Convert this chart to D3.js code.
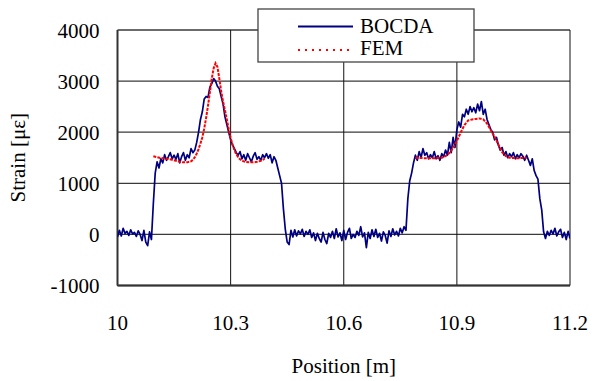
<!DOCTYPE html>
<html>
<head>
<meta charset="utf-8">
<script src="https://d3js.org/d3.v7.min.js"></script>
<style>
  body { margin: 0; background: #fff; }
</style>
</head>
<body>
<div id="graph"></div>
<script>
// BOCDA measurement, every 5 mm from 10.000 m to 11.200 m
var bocdaStart = 10.0;
var bocdaStep = 0.005;
var bocdaStrain = [
  -50, 80, -30, 120, 20, 60, -20, 90, 10, 40,
  -40, 70, 0, -120, 80, -150, -220, 50, -100, 600,
  1200, 1420, 1300, 1480, 1400, 1560, 1450, 1520, 1600, 1480,
  1550, 1470, 1580, 1400, 1520, 1600, 1450, 1560, 1500, 1680,
  1600, 1650, 1800, 2000, 2250, 2400, 2650, 2700, 2680, 2880,
  2950, 3050, 3000, 2900, 2850, 2700, 2550, 2300, 2150, 2000,
  1850, 1750, 1680, 1600, 1550, 1620, 1480, 1560, 1450, 1580,
  1500, 1420, 1530, 1600, 1470, 1520, 1450, 1560, 1500, 1580,
  1490, 1560, 1400, 1520, 1450, 1300, 1150, 1000, 500, 100,
  -150, -200, 80, -50, 90, -30, 70, 10, 100, -40,
  60, 0, 90, -60, 30, -120, 20, -80, -150, 40,
  -100, -180, 20, -60, 60, -80, 110, -50, 30, -120,
  80, -100, 40, 120, -80, 0, -60, 60, -20, 150,
  -50, 30, -260, 40, -80, 90, -40, 100, -60, 20,
  -130, 50, -20, -170, 70, -40, 110, -10, 60, -30,
  120, 30, 150, 80, 700, 1050, 1200, 1400, 1550, 1450,
  1620, 1500, 1680, 1550, 1600, 1480, 1560, 1500, 1620, 1480,
  1540, 1450, 1580, 1520, 1650, 1550, 1800, 1600, 1900, 1700,
  2050, 2200, 2100, 2350, 2300, 2450, 2350, 2500, 2400, 2480,
  2380, 2550, 2420, 2600, 2350, 2450, 2250, 2150, 2050, 2000,
  1850, 1900, 1750, 1650, 1700, 1550, 1620, 1500, 1580, 1520,
  1600, 1480, 1560, 1500, 1580, 1530, 1450, 1550, 1450, 1350,
  1480, 1250, 1150, 1080, 700, 480, 50, -80, 60, -20,
  80, 10, 120, -30, 50, 100, -60, 40, -100, 60,
  -80
];

// FEM result, two loaded sections (null = gap)
var femPos = [
  10.095, 10.105, 10.115, 10.125, 10.135, 10.145, 10.155, 10.165, 10.175, 10.185,
  10.195, 10.200, 10.205, 10.210, 10.215, 10.220, 10.225, 10.230, 10.235, 10.240,
  10.245, 10.250, 10.255, 10.260, 10.265, 10.270, 10.275, 10.280, 10.285, 10.290,
  10.295, 10.300, 10.305, 10.310, 10.315, 10.320, 10.325, 10.330, 10.340, 10.350,
  10.360, 10.370, 10.380, 10.390,
  10.600,
  10.790, 10.800, 10.820, 10.840, 10.860, 10.870, 10.880, 10.890, 10.900, 10.910,
  10.920, 10.930, 10.940, 10.950, 10.960, 10.970, 10.980, 10.990, 11.000, 11.010,
  11.020, 11.030, 11.040, 11.060, 11.085
];
var femStrain = [
  1530, 1510, 1495, 1485, 1475, 1460, 1440, 1420, 1410, 1410,
  1430, 1460, 1510, 1580, 1670, 1780, 1900, 2070, 2280, 2520,
  2780, 3050, 3250, 3350, 3280, 3050, 2800, 2600, 2430, 2250,
  2060, 1890, 1760, 1650, 1570, 1510, 1470, 1440, 1420, 1410,
  1410, 1420, 1440, 1480,
  null,
  1500, 1495, 1490, 1490, 1500, 1530, 1590, 1690, 1830, 1990,
  2140, 2230, 2250, 2260, 2270, 2250, 2170, 2040, 1910, 1760,
  1610, 1530, 1500, 1490, 1500
];

var xTicks = [10, 10.3, 10.6, 10.9, 11.2];
var yTicks = [-1000, 0, 1000, 2000, 3000, 4000];
var seriesNames = ["BOCDA", "FEM"];

var serif = "'Liberation Serif', 'DejaVu Serif', serif";

var width = 592, height = 381;
var margin = {top: 30, right: 22, bottom: 95.5, left: 117.5};
var plotW = width - margin.left - margin.right;
var plotH = height - margin.top - margin.bottom;

var svg = d3.select("#graph")
    .append("svg")
    .attr("width", width)
    .attr("height", height)
    .style("font-family", serif);

var g = svg.append("g")
    .attr("transform", `translate(${margin.left},${margin.top})`);

var x = d3.scaleLinear().domain([10, 11.2]).range([0, plotW]);
var y = d3.scaleLinear().domain([-1000, 4000]).range([plotH, 0]);

// grid
g.selectAll(".hgrid")
  .data(yTicks)
  .enter()
  .append("line")
    .attr("x1", 0)
    .attr("x2", plotW)
    .attr("y1", d => y(d))
    .attr("y2", d => y(d))
    .attr("stroke", "#3a3a3a")
    .attr("stroke-width", 1.3);

g.selectAll(".vgrid")
  .data(xTicks)
  .enter()
  .append("line")
    .attr("x1", d => x(d))
    .attr("x2", d => x(d))
    .attr("y1", 0)
    .attr("y2", plotH)
    .attr("stroke", "#111")
    .attr("stroke-width", 1);

// frame, left and bottom a bit heavier
g.append("line").attr("x1", 0).attr("x2", 0).attr("y1", 0).attr("y2", plotH)
  .attr("stroke", "#333").attr("stroke-width", 2);
g.append("line").attr("x1", 0).attr("x2", plotW).attr("y1", plotH).attr("y2", plotH)
  .attr("stroke", "#333").attr("stroke-width", 2);

// tick labels
g.selectAll(".ylab")
  .data(yTicks)
  .enter()
  .append("text")
    .attr("x", -18)
    .attr("y", d => y(d) + 7.5)
    .attr("text-anchor", "end")
    .style("font-size", "21px")
    .text(d => d);

g.selectAll(".xlab")
  .data(xTicks)
  .enter()
  .append("text")
    .attr("x", d => x(d))
    .attr("y", plotH + 44)
    .attr("text-anchor", "middle")
    .style("font-size", "21px")
    .text(d => d);

svg.append("text")
    .attr("x", margin.left + plotW / 2)
    .attr("y", 373)
    .attr("text-anchor", "middle")
    .style("font-size", "21px")
    .text("Position [m]");

svg.append("text")
    .attr("transform", `translate(25,${margin.top + plotH / 2}) rotate(-90)`)
    .attr("text-anchor", "middle")
    .style("font-size", "21px")
    .text("Strain [με]");

// series
svg.append("clipPath").attr("id", "clip")
  .append("rect").attr("width", plotW).attr("height", plotH);

var bocdaLine = d3.line()
    .x((d, i) => x(bocdaStart + i * bocdaStep))
    .y(d => y(d));

g.append("path")
    .datum(bocdaStrain)
    .attr("clip-path", "url(#clip)")
    .attr("fill", "none")
    .attr("stroke", "#000080")
    .attr("stroke-width", 1.7)
    .attr("stroke-linejoin", "round")
    .attr("d", bocdaLine);

var femLine = d3.line()
    .defined(d => d != null)
    .x((d, i) => x(femPos[i]))
    .y(d => y(d));

g.append("path")
    .datum(femStrain)
    .attr("fill", "none")
    .attr("stroke", "#ff0000")
    .attr("stroke-width", 2)
    .attr("stroke-dasharray", "3,1.2")
    .attr("d", femLine);

// legend
var legend = svg.append("g").attr("transform", "translate(258,9)");
legend.append("rect")
    .attr("width", 216)
    .attr("height", 53)
    .attr("fill", "#fff")
    .attr("stroke", "#444")
    .attr("stroke-width", 1.3);

legend.selectAll("line")
  .data(seriesNames)
  .enter()
  .append("line")
    .attr("x1", 40)
    .attr("x2", 95)
    .attr("y1", (d, i) => 17.5 + i * 23.5)
    .attr("y2", (d, i) => 17.5 + i * 23.5)
    .attr("stroke", (d, i) => i == 0 ? "#000080" : "#ff0000")
    .attr("stroke-width", 2)
    .attr("stroke-dasharray", (d, i) => i == 0 ? null : "2,5");

legend.selectAll("text")
  .data(seriesNames)
  .enter()
  .append("text")
    .attr("x", 102)
    .attr("y", (d, i) => 24 + i * 22)
    .style("font-size", "21px")
    .text(d => d);
</script>
</body>
</html>
